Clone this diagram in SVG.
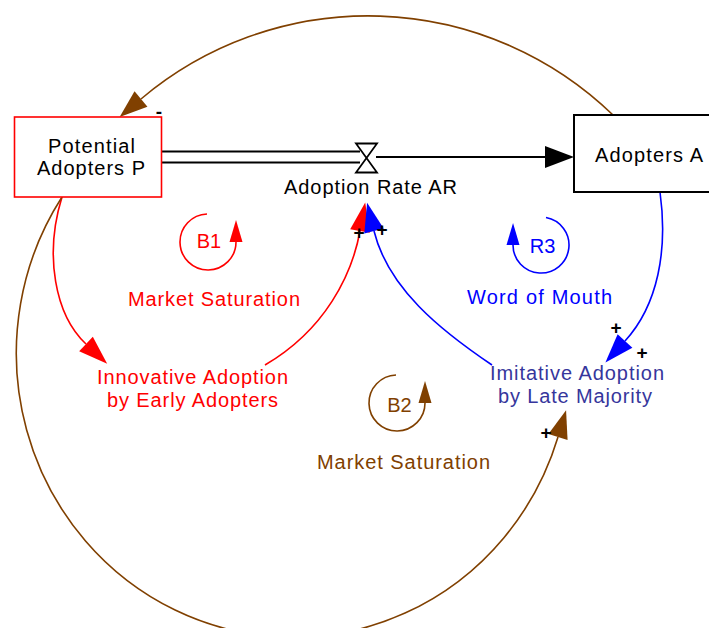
<svg xmlns="http://www.w3.org/2000/svg" width="709" height="628" viewBox="0 0 709 628">
  <style>
    text { font-family: "Liberation Sans", Arial, sans-serif; font-size: 20px; text-anchor: middle; }
    .sign { font-size: 19px; font-weight: bold; fill: #000; }
    .link { fill: none; stroke-width: 1.6; }
    .red { stroke: #ff0000; }
    .brown { stroke: #804000; }
    .blue { stroke: #0000ff; }
    .t-red { fill: #ff0000; }
    .t-brown { fill: #804000; }
    .t-blue { fill: #0000ff; }
    .t-navy { fill: #36369c; }
  </style>
  <defs>
    <marker id="ah-black" markerUnits="userSpaceOnUse" viewBox="0 -12 30 24" refX="0" refY="0" markerWidth="30" markerHeight="24" orient="auto" overflow="visible">
      <path d="M0,-11 L29,0 L0,11 z" fill="#000"/>
    </marker>
    <marker id="ah-red" markerUnits="userSpaceOnUse" viewBox="0 -11 30 22" refX="0" refY="0" markerWidth="30" markerHeight="22" orient="auto" overflow="visible">
      <path d="M0,-10 L29,0 L0,10 z" fill="#ff0000"/>
    </marker>
    <marker id="ah-blue" markerUnits="userSpaceOnUse" viewBox="0 -11 30 22" refX="0" refY="0" markerWidth="30" markerHeight="22" orient="auto" overflow="visible">
      <path d="M0,-10 L29,0 L0,10 z" fill="#0000ff"/>
    </marker>
    <marker id="ah-brown" markerUnits="userSpaceOnUse" viewBox="0 -11 30 22" refX="0" refY="0" markerWidth="30" markerHeight="22" orient="auto" overflow="visible">
      <path d="M0,-10 L28,0 L0,10 z" fill="#804000"/>
    </marker>
    <marker id="lh-red" markerUnits="userSpaceOnUse" viewBox="0 -7 24 14" refX="0" refY="0" markerWidth="24" markerHeight="14" orient="auto" overflow="visible">
      <path d="M0,-6.5 L22,0 L0,6.5 z" fill="#ff0000"/>
    </marker>
    <marker id="lh-blue" markerUnits="userSpaceOnUse" viewBox="0 -7 24 14" refX="0" refY="0" markerWidth="24" markerHeight="14" orient="auto" overflow="visible">
      <path d="M0,-6.5 L22,0 L0,6.5 z" fill="#0000ff"/>
    </marker>
    <marker id="lh-brown" markerUnits="userSpaceOnUse" viewBox="0 -7 24 14" refX="0" refY="0" markerWidth="24" markerHeight="14" orient="auto" overflow="visible">
      <path d="M0,-6.5 L22,0 L0,6.5 z" fill="#804000"/>
    </marker>
  </defs>

  <rect width="709" height="628" fill="#fff"/>

  <!-- causal links and flow -->
  <g id="connectors">
    <!-- flow pipe from Potential Adopters into the valve -->
    <g id="flow-pipe">
      <line x1="161" y1="151.5" x2="360" y2="151.5" stroke="#000" stroke-width="2"/>
      <line x1="161" y1="162.5" x2="360" y2="162.5" stroke="#000" stroke-width="2"/>
      <line x1="376" y1="157" x2="545" y2="157" stroke="#000" stroke-width="2" marker-end="url(#ah-black)"/>
    </g>
    <!-- Adopters A feeds back to Potential Adopters P (-) -->
    <path class="link brown" d="M613,115 A352,352 0 0 0 141,99" marker-end="url(#ah-brown)"/>
    <text class="sign" x="159" y="118">-</text>
    <!-- Potential Adopters P to Innovative Adoption -->
    <path class="link red" d="M62,197 C44,255 55,315 86,344" marker-end="url(#ah-red)"/>
    <!-- Potential Adopters P to Imitative Adoption (big lower arc) -->
    <path class="link brown" d="M62,197 A277,284 0 1 0 558,437" marker-end="url(#ah-brown)"/>
    <text class="sign" x="546" y="439">+</text>
    <!-- Adopters A to Imitative Adoption -->
    <path class="link blue" d="M660,192 C668,250 658,305 625,341" marker-end="url(#ah-blue)"/>
    <text class="sign" x="616" y="334">+</text>
    <text class="sign" x="642" y="359">+</text>
    <!-- Innovative Adoption to Adoption Rate -->
    <path class="link red" d="M265,365 C325,330 352,275 360,231" marker-end="url(#ah-red)"/>
    <!-- Imitative Adoption to Adoption Rate -->
    <path class="link blue" d="M492,365 C440,330 388,288 374,231" marker-end="url(#ah-blue)"/>
    <text class="sign" x="359" y="239">+</text>
    <text class="sign" x="382" y="236">+</text>
  </g>

  <!-- Potential Adopters stock -->
  <g id="potential-adopters">
    <rect x="14.5" y="117" width="147" height="80" fill="#fff" stroke="#ff0000" stroke-width="1.6"/>
    <text x="91.5" y="153" textLength="87" lengthAdjust="spacing">Potential</text>
    <text x="91" y="175" textLength="108" lengthAdjust="spacing">Adopters P</text>
  </g>

  <!-- Adopters stock -->
  <g id="adopters">
    <rect x="574" y="115" width="150" height="77" fill="#fff" stroke="#000" stroke-width="2"/>
    <text x="649" y="162" textLength="108" lengthAdjust="spacing">Adopters A</text>
  </g>

  <!-- Adoption Rate valve -->
  <g id="adoption-rate">
    <path d="M356,143.5 L377,143.5 L356,172.5 L377,172.5 Z" fill="#fff" stroke="#000" stroke-width="1.8" stroke-linejoin="miter"/>
    <text x="370.5" y="194" textLength="173" lengthAdjust="spacing">Adoption Rate AR</text>
  </g>

  <!-- auxiliary variables -->
  <g id="innovative-adoption">
    <text class="t-red" x="192.5" y="384" textLength="191" lengthAdjust="spacing">Innovative Adoption</text>
    <text class="t-red" x="192.5" y="407" textLength="171" lengthAdjust="spacing">by Early Adopters</text>
  </g>
  <g id="imitative-adoption">
    <text class="t-navy" x="577" y="380" textLength="174" lengthAdjust="spacing">Imitative Adoption</text>
    <text class="t-navy" x="575" y="403" textLength="154" lengthAdjust="spacing">by Late Majority</text>
  </g>

  <!-- feedback loop markers -->
  <g id="loop-b1">
    <path class="link red" d="M207,214 A28,28 0 1 0 236,242" marker-end="url(#lh-red)"/>
    <text class="t-red" x="209" y="248">B1</text>
    <text class="t-red" x="214" y="306" textLength="172" lengthAdjust="spacing">Market Saturation</text>
  </g>
  <g id="loop-r3">
    <path class="link blue" d="M546,217.5 A28,28 0 1 1 513,245" marker-end="url(#lh-blue)"/>
    <text class="t-blue" x="542.5" y="253">R3</text>
    <text class="t-blue" x="539.5" y="304" textLength="145" lengthAdjust="spacing">Word of Mouth</text>
  </g>
  <g id="loop-b2">
    <path class="link brown" d="M396,375 A28,28 0 1 0 425,403" marker-end="url(#lh-brown)"/>
    <text class="t-brown" x="399.5" y="412">B2</text>
    <text class="t-brown" x="403.5" y="469" textLength="173" lengthAdjust="spacing">Market Saturation</text>
  </g>
</svg>
